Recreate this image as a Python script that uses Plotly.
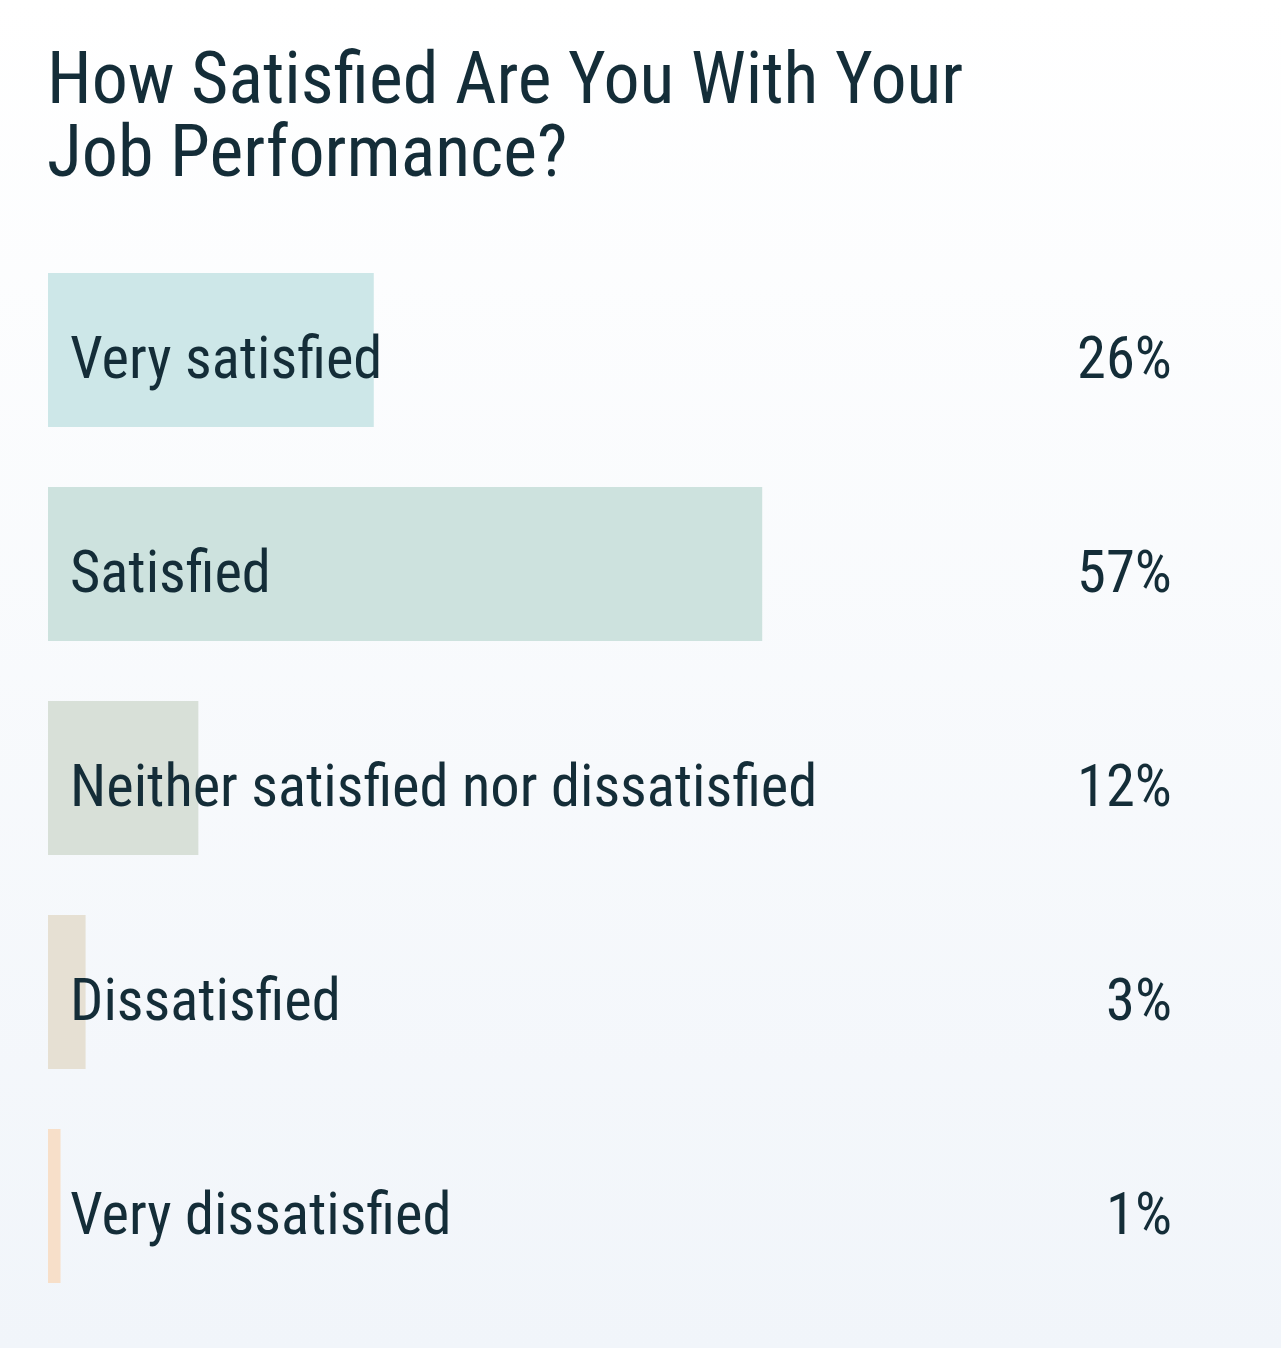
import plotly.graph_objects as go
import urllib.parse

# ------------data
categories = ["Very satisfied", "Satisfied", "Neither satisfied nor dissatisfied",
              "Dissatisfied", "Very dissatisfied"]
percent = [26, 57, 12, 3, 1]
bar_colors = ["#cde7e8", "#cde2de", "#d8e0d8", "#e6e0d3", "#f7dfc9"]
title_lines = ["How Satisfied Are You With Your", "Job Performance?"]

text_color = "#142d38"
font_family = "Roboto Condensed, Roboto, sans-serif"

W, H = 1281, 1348
m_l, m_r, m_t, m_b = 48, 111, 243, 35
plot_w = W - m_l - m_r
plot_h = H - m_t - m_b

# soft vertical gradient for the page background
svg = ('<svg xmlns="http://www.w3.org/2000/svg" width="100" height="100" preserveAspectRatio="none">'
       '<defs><linearGradient id="g" x1="0" y1="0" x2="0" y2="1">'
       '<stop offset="0" stop-color="#ffffff"/><stop offset="1" stop-color="#f1f5fa"/>'
       '</linearGradient></defs><rect width="100" height="100" fill="url(#g)"/></svg>')
bg_src = "data:image/svg+xml;charset=utf-8," + urllib.parse.quote(svg)

fig = go.Figure(go.Bar(
    x=percent,
    y=categories,
    orientation="h",
    marker=dict(color=bar_colors, line=dict(width=0)),
    hoverinfo="skip",
))

annotations = []
for cat, val in zip(categories, percent):
    annotations.append(dict(x=0, y=cat, xref="x", yref="y", text=cat,
                            xanchor="left", yanchor="middle", xshift=20, yshift=-8,
                            showarrow=False,
                            font=dict(family=font_family, size=58.5, color=text_color)))
    annotations.append(dict(x=1, y=cat, xref="paper", yref="y", text="{}%".format(val),
                            xanchor="right", yanchor="middle", xshift=4, yshift=-8,
                            showarrow=False,
                            font=dict(family=font_family, size=58.5, color=text_color)))

# title as two annotations to control line spacing
for i, line in enumerate(title_lines):
    y_px = 79 + 72 * i
    annotations.append(dict(x=0, y=(H - m_b - y_px) / plot_h, xref="paper", yref="paper",
                            text=line, xanchor="left", yanchor="middle", xshift=-3,
                            showarrow=False,
                            font=dict(family=font_family, size=72, color=text_color)))

fig.update_layout(
    width=W, height=H,
    margin=dict(l=m_l, r=m_r, t=m_t, b=m_b, pad=0),
    paper_bgcolor="#f8fafd",
    plot_bgcolor="rgba(0,0,0,0)",
    bargap=60 / 214,
    showlegend=False,
    annotations=annotations,
    images=[dict(source=bg_src, xref="paper", yref="paper",
                 x=-m_l / plot_w, y=(H - m_b) / plot_h,
                 sizex=W / plot_w, sizey=H / plot_h,
                 sizing="stretch", xanchor="left", yanchor="top", layer="below")],
    xaxis=dict(range=[0, plot_w / 12.53], visible=False, fixedrange=True),
    yaxis=dict(autorange="reversed", visible=False, fixedrange=True),
)

# drop the default page margin so the chart sits at the window corner
fig.write_html("out.html", config={"displayModeBar": False},
               post_script="document.body.style.margin='0';")
